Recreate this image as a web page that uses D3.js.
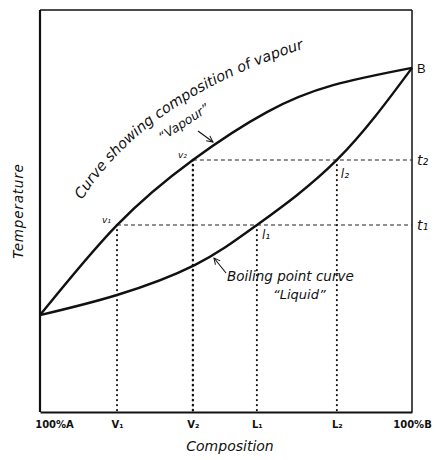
<!DOCTYPE html>
<html>
<head>
<meta charset="utf-8">
<script src="https://cdnjs.cloudflare.com/ajax/libs/d3/7.8.5/d3.min.js"></script>
<style>
  body { margin: 0; background: #fff; }
  text { font-family: "DejaVu Sans", sans-serif; fill: #111; }
</style>
</head>
<body>
<div id="plot"></div>
<script>
// composition (% B) and temperature (arbitrary 0-100)
const vapourComp = [0, 20.7, 41.1, 61.0, 78.8, 100];
const vapourTemp = [24.1, 46.5, 62.7, 74.6, 81.3, 85.6];
const liquidComp = [0, 20.7, 41.7, 58.3, 79.8, 100];
const liquidTemp = [24.1, 29.1, 36.6, 46.5, 62.7, 85.6];

// tie lines: temperature level, vapour composition, liquid composition
const tieTemps = [46.5, 62.7];
const tieVapour = [20.7, 41.1];
const tieLiquid = [58.3, 79.8];

const tickValues = [0, 20.7, 41.1, 58.3, 79.8, 100];
const tickLabels = ["100%A", "V₁", "V₂", "L₁", "L₂", "100%B"];

const width = 436, height = 460;
const margin = { top: 10, right: 24, bottom: 48, left: 40 };

const svg = d3.select("#plot").append("svg")
  .attr("width", width)
  .attr("height", height);

const x = d3.scaleLinear().domain([0, 100]).range([margin.left, width - margin.right]);
const y = d3.scaleLinear().domain([0, 100]).range([height - margin.bottom, margin.top]);

// arrow marker
svg.append("defs").append("marker")
  .attr("id", "arr")
  .attr("viewBox", "0 0 10 10")
  .attr("refX", 9).attr("refY", 5)
  .attr("markerWidth", 7).attr("markerHeight", 7)
  .attr("orient", "auto")
  .append("path")
  .attr("d", "M1,1 L9,5 L1,9")
  .attr("fill", "none")
  .attr("stroke", "#111")
  .attr("stroke-width", 1.3);

// frame
svg.append("line").attr("x1", x(0)).attr("x2", x(100)).attr("y1", y(100)).attr("y2", y(100))
  .attr("stroke", "#111").attr("stroke-width", 1.3);
svg.append("line").attr("x1", x(100)).attr("x2", x(100)).attr("y1", y(100)).attr("y2", y(0))
  .attr("stroke", "#111").attr("stroke-width", 1.5);
svg.append("line").attr("x1", x(0)).attr("x2", x(0)).attr("y1", y(100)).attr("y2", y(0))
  .attr("stroke", "#111").attr("stroke-width", 2.2);

// bottom axis
const axis = svg.append("g")
  .attr("transform", `translate(0,${y(0)})`)
  .call(d3.axisBottom(x).tickValues(tickValues).tickSize(0).tickPadding(9)
    .tickFormat((d, i) => tickLabels[i]));
axis.select(".domain").attr("stroke", "#111").attr("stroke-width", 2.2);
axis.selectAll("text")
  .style("font-family", "'DejaVu Sans', sans-serif")
  .style("font-weight", "bold")
  .style("font-size", "10px")
  .attr("fill", "#111");
axis.selectAll(".tick text").filter((d, i) => i === 0).attr("dx", 14);

// horizontal tie lines
tieTemps.forEach((t, i) => {
  svg.append("line")
    .attr("x1", x(tieVapour[i])).attr("x2", x(100))
    .attr("y1", y(t)).attr("y2", y(t))
    .attr("stroke", "#222").attr("stroke-width", 1.1)
    .attr("stroke-dasharray", "4,3");
});

// vertical drops
const drops = [
  { c: tieVapour[0], t: tieTemps[0] },
  { c: tieVapour[1], t: tieTemps[1] },
  { c: tieLiquid[0], t: tieTemps[0] },
  { c: tieLiquid[1], t: tieTemps[1] }
];
svg.selectAll(".drop").data(drops).enter().append("line")
  .attr("x1", d => x(d.c)).attr("x2", d => x(d.c))
  .attr("y1", d => y(d.t)).attr("y2", y(0))
  .attr("stroke", "#111")
  .attr("stroke-width", (d, i) => i === 1 ? 2.4 : 2)
  .attr("stroke-linecap", "round")
  .attr("stroke-dasharray", "0.3,4.7");

// curves
const line = d3.line()
  .x(d => x(d[0]))
  .y(d => y(d[1]))
  .curve(d3.curveNatural);

svg.append("path")
  .datum(d3.zip(vapourComp, vapourTemp))
  .attr("fill", "none").attr("stroke", "#111").attr("stroke-width", 2.4)
  .attr("d", line);
svg.append("path")
  .datum(d3.zip(liquidComp, liquidTemp))
  .attr("fill", "none").attr("stroke", "#111").attr("stroke-width", 2.4)
  .attr("d", line);

// curved label above vapour curve
svg.append("path")
  .attr("id", "vpath")
  .attr("d", "M82,200 Q150,92 326,42")
  .attr("fill", "none");
svg.append("text")
  .style("font-size", "14.5px").style("font-style", "italic")
  .append("textPath")
  .attr("href", "#vpath")
  .text("Curve showing composition of vapour");

svg.append("text")
  .attr("transform", "translate(186,126) rotate(-33)")
  .attr("text-anchor", "middle")
  .style("font-size", "12.5px").style("font-style", "italic")
  .text("“Vapour”");
svg.append("line")
  .attr("x1", 198).attr("y1", 131).attr("x2", 213).attr("y2", 142)
  .attr("stroke", "#111").attr("stroke-width", 1.1)
  .attr("marker-end", "url(#arr)");

svg.append("text")
  .attr("x", 227).attr("y", 281)
  .style("font-size", "13.5px").style("font-style", "italic")
  .text("Boiling point curve");
svg.append("text")
  .attr("x", 273).attr("y", 299)
  .style("font-size", "13px").style("font-style", "italic")
  .text("“Liquid”");
svg.append("line")
  .attr("x1", 226).attr("y1", 273).attr("x2", 214).attr("y2", 258)
  .attr("stroke", "#111").attr("stroke-width", 1.1)
  .attr("marker-end", "url(#arr)");

// point labels
const pointLabels = [
  { t: "v₁", c: tieVapour[0], v: tieTemps[0], dx: -15, dy: -2, fs: 9 },
  { t: "v₂", c: tieVapour[1], v: tieTemps[1], dx: -15, dy: -2, fs: 9 },
  { t: "l₁", c: tieLiquid[0], v: tieTemps[0], dx: 5, dy: 14, fs: 12 },
  { t: "l₂", c: tieLiquid[1], v: tieTemps[1], dx: 4, dy: 18, fs: 12 }
];
svg.selectAll(".plabel").data(pointLabels).enter().append("text")
  .attr("x", d => x(d.c) + d.dx).attr("y", d => y(d.v) + d.dy)
  .style("font-style", "italic")
  .style("font-size", d => d.fs + "px")
  .text(d => d.t);

// right side labels
const rightLabels = [{ t: "t₁", v: tieTemps[0] }, { t: "t₂", v: tieTemps[1] }];
svg.selectAll(".rlabel").data(rightLabels).enter().append("text")
  .attr("x", x(100) + 5).attr("y", d => y(d.v) + 5)
  .style("font-style", "italic").style("font-size", "14px")
  .text(d => d.t);
svg.append("text")
  .attr("x", x(100) + 5).attr("y", y(vapourTemp[vapourTemp.length - 1]) + 5)
  .style("font-family", "'Liberation Sans', sans-serif")
  .style("font-size", "13px")
  .text("B");

// axis titles
svg.append("text")
  .attr("transform", `translate(23,${(y(0) + y(100)) / 2}) rotate(-90)`)
  .attr("text-anchor", "middle")
  .style("font-size", "13.5px").style("font-style", "italic")
  .attr("letter-spacing", 0.8)
  .text("Temperature");
svg.append("text")
  .attr("x", 230).attr("y", 451)
  .attr("text-anchor", "middle")
  .style("font-size", "14px").style("font-style", "italic")
  .text("Composition");
</script>
</body>
</html>
